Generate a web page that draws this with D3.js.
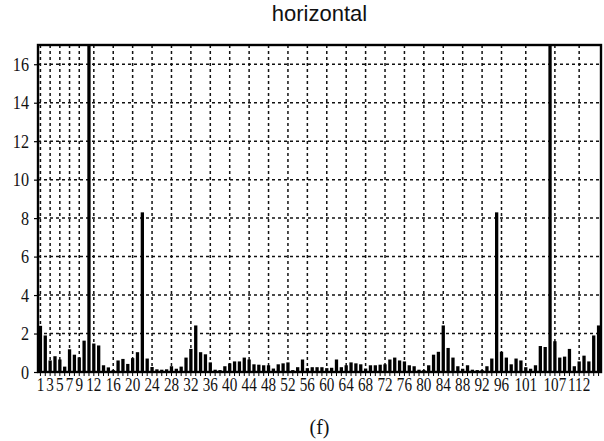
<!DOCTYPE html>
<html>
<head>
<meta charset="utf-8">
<script src="https://cdn.jsdelivr.net/npm/d3@7"></script>
<style>
  body { margin: 0; background: #fff; }
  svg { display: block; }
</style>
</head>
<body>
<svg id="chart" width="604" height="441"></svg>
<script>
// Bin indices 1..116
const categories = d3.range(1, 117).map(String);

// Magnitude per bin (bins 11 and 106 run off the top of the frame)
const magnitudes = [
  2.40, 1.90, 0.60, 0.82, 0.65, 0.28, 1.18, 0.90, 0.76, 1.63,
  17.0, 1.48, 1.38, 0.35, 0.24, 0.10, 0.60, 0.68, 0.42, 0.72,
  1.03, 8.30, 0.70, 0.26, 0.14, 0.12, 0.14, 0.30, 0.17, 0.28,
  0.75, 1.20, 2.42, 1.03, 0.92, 0.50, 0.12, 0.10, 0.30, 0.45,
  0.55, 0.55, 0.75, 0.65, 0.40, 0.38, 0.35, 0.35, 0.18, 0.40,
  0.45, 0.50, 0.10, 0.25, 0.65, 0.20, 0.25, 0.25, 0.25, 0.20,
  0.22, 0.65, 0.25, 0.35, 0.50, 0.45, 0.40, 0.18, 0.35, 0.35,
  0.38, 0.40, 0.65, 0.75, 0.60, 0.55, 0.35, 0.30, 0.12, 0.10,
  0.35, 0.90, 1.05, 2.42, 1.25, 0.75, 0.30, 0.17, 0.35, 0.12,
  0.10, 0.10, 0.30, 0.70, 8.30, 1.05, 0.75, 0.40, 0.70, 0.60,
  0.25, 0.17, 0.35, 1.35, 1.30, 17.0, 1.60, 0.75, 0.80, 1.20,
  0.30, 0.55, 0.85, 0.55, 1.90, 2.42
];

// Labelled bins along the bottom
const xTickLabels = ["1", "3", "5", "7", "9", "12", "16", "20", "24", "28",
  "32", "36", "40", "44", "48", "52", "56", "60", "64", "68", "72", "76",
  "80", "84", "88", "92", "96", "101", "107", "112"];

const yTickValues = [0, 2, 4, 6, 8, 10, 12, 14, 16];

const chartTitle = "horizontal";
const caption = "(f)";

const data = categories.map((c, i) => ({ c, v: magnitudes[i] }));

const svg = d3.select("#chart");
const plot = { left: 38, right: 601, top: 45, bottom: 372 };

const inner = 0.32;
const x = d3.scaleBand()
  .domain(categories)
  .range([plot.left, plot.right])
  .paddingInner(inner)
  .paddingOuter(inner / 2);

const y = d3.scaleLinear()
  .domain([0, 17])
  .range([plot.bottom, plot.top]);

const cx = c => x(c) + x.bandwidth() / 2;

svg.append("defs").append("clipPath").attr("id", "plot-clip")
  .append("rect")
  .attr("x", plot.left).attr("y", plot.top)
  .attr("width", plot.right - plot.left)
  .attr("height", plot.bottom - plot.top);

// Dashed grid
const grid = svg.append("g").attr("stroke", "#111")
  .attr("stroke-width", 1.5).attr("stroke-dasharray", "3,3");

grid.selectAll("line.h")
  .data(yTickValues.filter(v => v > 0))
  .join("line")
  .attr("class", "h")
  .attr("x1", plot.left).attr("x2", plot.right)
  .attr("y1", d => y(d)).attr("y2", d => y(d));

grid.selectAll("line.v")
  .data(xTickLabels)
  .join("line")
  .attr("class", "v")
  .attr("x1", d => cx(d)).attr("x2", d => cx(d))
  .attr("y1", plot.top).attr("y2", plot.bottom);

// Bars
svg.append("g")
  .attr("clip-path", "url(#plot-clip)")
  .selectAll("rect")
  .data(data)
  .join("rect")
  .attr("x", d => x(d.c))
  .attr("width", x.bandwidth())
  .attr("y", d => y(d.v))
  .attr("height", d => y(0) - y(d.v))
  .attr("fill", "#000");

// Minor ticks under every bin
svg.append("g")
  .attr("transform", `translate(0,${plot.bottom})`)
  .call(d3.axisBottom(x).tickValues(categories).tickSize(4).tickFormat(""))
  .call(g => g.select(".domain").remove())
  .call(g => g.selectAll("line").attr("stroke", "#000").attr("stroke-width", 1));

// Y ticks
svg.append("g")
  .attr("transform", `translate(${plot.left},0)`)
  .call(d3.axisLeft(y).tickValues(yTickValues).tickSize(4).tickFormat(""))
  .call(g => g.select(".domain").remove())
  .call(g => g.selectAll("line").attr("stroke", "#000").attr("stroke-width", 1.2));

// Frame
svg.append("rect")
  .attr("x", plot.left).attr("y", plot.top)
  .attr("width", plot.right - plot.left)
  .attr("height", plot.bottom - plot.top)
  .attr("fill", "none")
  .attr("stroke", "#000")
  .attr("stroke-width", 2.4);

const serif = "'Liberation Serif', 'Times New Roman', serif";

// Y labels
svg.append("g")
  .selectAll("text")
  .data(yTickValues)
  .join("text")
  .attr("transform", d => `translate(29,${y(d)}) scale(0.85,1)`)
  .attr("dy", "0.35em")
  .attr("text-anchor", "end")
  .attr("font-family", serif)
  .attr("font-size", 19)
  .attr("fill", "#111")
  .text(d => d);

// X labels
svg.append("g")
  .selectAll("text")
  .data(xTickLabels)
  .join("text")
  .attr("transform", d => `translate(${cx(d)},391) scale(0.8,1)`)
  .attr("text-anchor", "middle")
  .attr("font-family", serif)
  .attr("font-size", 19)
  .attr("fill", "#111")
  .text(d => d);

// Title
svg.append("text")
  .attr("x", (plot.left + plot.right) / 2)
  .attr("y", 21)
  .attr("text-anchor", "middle")
  .attr("font-family", "'Liberation Sans', Arial, sans-serif")
  .attr("font-size", 22)
  .attr("fill", "#111")
  .text(chartTitle);

// Caption
svg.append("text")
  .attr("x", (plot.left + plot.right) / 2)
  .attr("y", 434)
  .attr("text-anchor", "middle")
  .attr("font-family", serif)
  .attr("font-size", 20)
  .attr("fill", "#111")
  .text(caption);
</script>
</body>
</html>
